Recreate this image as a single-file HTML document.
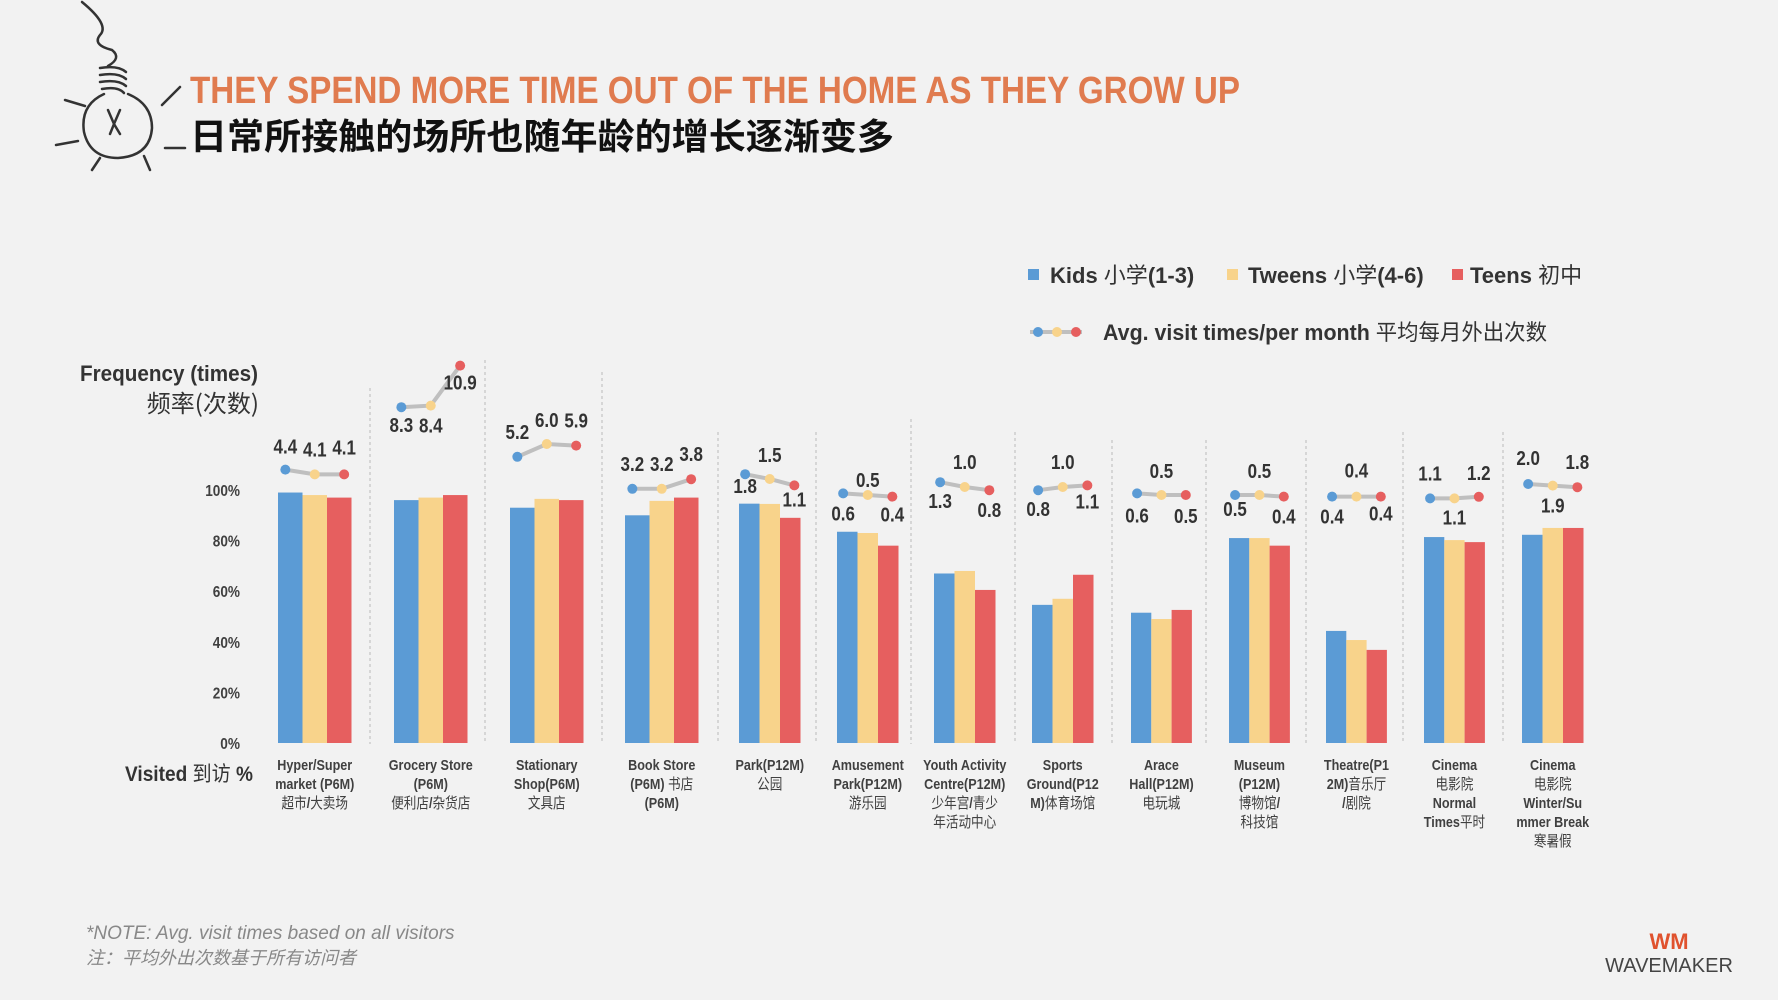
<!DOCTYPE html>
<html><head><meta charset="utf-8"><style>
html,body{margin:0;padding:0;background:#F2F2F2;}
svg{display:block;}
text{font-family:"Liberation Sans Narrow","Liberation Sans","Noto Sans CJK SC",sans-serif;}
</style></head><body>
<svg id="chart" width="1778" height="1000" viewBox="0 0 1778 1000" xmlns="http://www.w3.org/2000/svg">
<rect width="1778" height="1000" fill="#F2F2F2"/>
<g fill="none" stroke="#333" stroke-width="2.5" stroke-linecap="round">
<path d="M82 2 Q110 25 100 35 Q92 45 112 50 Q122 58 108 66"/>
<path d="M100 68 q18 -3 26 4 M100 75 q18 -3 26 4 M100 82 q18 -3 26 4 M102 89 q16 -3 22 4"/>
<path d="M104 94 Q80 105 84 132 Q90 158 118 158 Q150 156 152 128 Q152 104 128 94"/>
<path d="M108 110 l6 14 l6 -14 M114 124 l-4 10 M114 124 l6 10"/>
<path d="M65 100 l20 6 M56 145 l22 -4 M92 170 l8 -12 M150 170 l-6 -14 M165 148 l20 0 M162 105 l18 -18"/>
</g>
<text x="190" y="103" font-size="38" font-weight="bold" fill="#E07B4F" textLength="1050" lengthAdjust="spacingAndGlyphs">THEY SPEND MORE TIME OUT OF THE HOME AS THEY GROW UP</text>
<text x="190" y="149" font-size="36" font-weight="bold" fill="#111" textLength="704" lengthAdjust="spacingAndGlyphs" style="font-family:'Noto Sans CJK SC',sans-serif">日常所接触的场所也随年龄的增长逐渐变多</text>

<g font-size="22" font-weight="bold" fill="#333">
<rect x="1028" y="269" width="11" height="11" fill="#5B9BD5"/>
<text class="cond" x="1050" y="283">Kids <tspan style="font-family:'Noto Sans CJK SC'" font-weight="normal">小学</tspan>(1-3)</text>
<rect x="1227" y="269" width="11" height="11" fill="#F8D38B"/>
<text class="cond" x="1248" y="283">Tweens <tspan style="font-family:'Noto Sans CJK SC'" font-weight="normal">小学</tspan>(4-6)</text>
<rect x="1452" y="269" width="11" height="11" fill="#E65F5F"/>
<text class="cond" x="1470" y="283">Teens <tspan style="font-family:'Noto Sans CJK SC'" font-weight="normal">初中</tspan></text>
<g>
<line x1="1030" y1="332" x2="1082" y2="332" stroke="#BFBFBF" stroke-width="4"/>
<circle cx="1038" cy="332" r="5" fill="#5B9BD5"/><circle cx="1057" cy="332" r="5" fill="#F8D38B"/><circle cx="1076" cy="332" r="5" fill="#E65F5F"/>
</g>
<text x="1103" y="340" textLength="444" lengthAdjust="spacingAndGlyphs">Avg. visit times/per month <tspan style="font-family:'Noto Sans CJK SC'" font-weight="normal">平均每月外出次数</tspan></text>
</g>

<text x="80" y="381" font-size="22" font-weight="bold" fill="#333" textLength="178" lengthAdjust="spacingAndGlyphs">Frequency (times)</text>
<text x="259" y="412" font-size="24" fill="#333" text-anchor="end" style="font-family:'Noto Sans CJK SC',sans-serif">频率(次数)</text>
<text x="125" y="781" font-size="21" font-weight="bold" fill="#333" textLength="128" lengthAdjust="spacingAndGlyphs">Visited <tspan style="font-family:'Noto Sans CJK SC'" font-weight="normal">到访</tspan> %</text>
<g id="plot"></g>

<text x="86" y="939" font-size="19" font-style="italic" fill="#888" style="font-family:'Liberation Sans',sans-serif">*NOTE: Avg. visit times based on all visitors</text>
<text x="86" y="964" font-size="18" font-style="italic" fill="#888" style="font-family:'Noto Sans CJK SC',sans-serif">注：平均外出次数基于所有访问者</text>
<text x="1669" y="949" font-size="22" font-weight="bold" fill="#E0522E" text-anchor="middle" style="font-family:'Liberation Sans',sans-serif">WM</text>
<text x="1669" y="972" font-size="20" fill="#444" text-anchor="middle" style="font-family:'Liberation Sans',sans-serif">WAVEMAKER</text>
</svg>
<script>
const categories = [
 ["Hyper/Super","market (P6M)","超市/大卖场"],
 ["Grocery Store","(P6M)","便利店/杂货店"],
 ["Stationary","Shop(P6M)","文具店"],
 ["Book  Store","(P6M) 书店","(P6M)"],
 ["Park(P12M)","公园"],
 ["Amusement","Park(P12M)","游乐园"],
 ["Youth Activity","Centre(P12M)","少年宫/青少","年活动中心"],
 ["Sports","Ground(P12","M)体育场馆"],
 ["Arace","Hall(P12M)","电玩城"],
 ["Museum","(P12M)","博物馆/","科技馆"],
 ["Theatre(P1","2M)音乐厅","/剧院"],
 ["Cinema","电影院","Normal","Times平时"],
 ["Cinema","电影院","Winter/Su","mmer Break","寒暑假"]
];
const kidsVisited   = [99, 96, 93, 90, 94.6, 83.5, 67, 54.6, 51.5, 81, 44.3, 81.4, 82.3];
const tweensVisited = [98, 97, 96.5, 95.7, 94.5, 83, 68, 57, 49, 81, 40.7, 80.2, 85];
const teensVisited  = [97, 98, 96, 97, 89, 78, 60.5, 66.5, 52.6, 78, 36.8, 79.4, 85];
const kidsFreq   = [4.4, 8.3, 5.2, 3.2, 1.8, 0.6, 1.3, 0.8, 0.6, 0.5, 0.4, 1.1, 2.0];
const tweensFreq = [4.1, 8.4, 6.0, 3.2, 1.5, 0.5, 1.0, 1.0, 0.5, 0.5, 0.4, 1.1, 1.9];
const teensFreq  = [4.1, 10.9, 5.9, 3.8, 1.1, 0.4, 0.8, 1.1, 0.5, 0.4, 0.4, 1.2, 1.8];
const tickLabels = ["0%","20%","40%","60%","80%","100%"];
const tickValues = [0,20,40,60,80,100];

// layout (not data)
const groupLeft = [278,394,510,625,739,837,934,1032,1131,1229,1326,1424,1522];
const barW = [24.5,24.5,24.5,24.5,20.5,20.5,20.5,20.5,20.3,20.3,20.3,20.3,20.5];
const dotBase = [540,540,540,540,503,503,503,503,503,503,503,516,516];
const lblDy = [[-23,-25,-27],[18,20,17],[-25,-24,-25],[-25,-25,-25],[12,-24,14],[20,-15,18],[19,-25,20],[19,-25,16],[22,-24,21],[14,-24,20],[20,-26,17],[-25,19,-24],[-26,20,-25]];
const sepX = [370,485,602,718,816,911,1015,1112,1206,1306,1403,1503];
const sepTop = [388,360,372,432,432,419,432,440,440,440,432,432];

const colors = ["#5B9BD5","#F8D38B","#E65F5F"];
const seriesNames = ["kids","tweens","teens"];
const baseY = 743, pxPerPct = 2.53, pxPerFreq = 16;
const yPct = v => baseY - v * pxPerPct;
const yFreq = (g, v) => dotBase[g] - v * pxPerFreq;
const NS = "http://www.w3.org/2000/svg";
const plot = document.getElementById("plot");
function mk(tag, attrs, parent){ const e=document.createElementNS(NS,tag); for(const k in attrs) e.setAttribute(k,attrs[k]); (parent||plot).appendChild(e); return e; }
function condense(t, f){ const w=t.getComputedTextLength(); if(w>0){ t.setAttribute("textLength", (w*f).toFixed(1)); t.setAttribute("lengthAdjust","spacingAndGlyphs"); } }

tickValues.forEach((v,i)=>{
  const t = mk("text",{x:240,y:yPct(v)+6,"font-size":16,"font-weight":"bold",fill:"#404040","text-anchor":"end"});
  
  
  t.textContent = tickLabels[i];
  condense(t, 0.85);
});
sepX.forEach((x,i)=>{
  const l = mk("line",{x1:x,x2:x,y1:sepTop[i],y2:744,stroke:"#BBBBBB","stroke-width":1,"stroke-dasharray":"3,3"});
  
  
});
const visited = [kidsVisited, tweensVisited, teensVisited];
const freq = [kidsFreq, tweensFreq, teensFreq];
categories.forEach((cat,g)=>{
  const w = barW[g];
  for(let s=0;s<3;s++){
    const v = visited[s][g];
    const r = mk("rect",{x:groupLeft[g]+s*w,y:yPct(v),width:w,height:v*pxPerPct,fill:colors[s]});
    
    
  }
  const cx = groupLeft[g] + 1.5*w, sp = w*1.2;
  const pts = [0,1,2].map(s=>[cx+(s-1)*sp, yFreq(g,freq[s][g])]);
  const pl = mk("polyline",{points:pts.map(p=>p.join(",")).join(" "),fill:"none",stroke:"#BFBFBF","stroke-width":4});
  
  
  pts.forEach((p,s)=>{
    const c = mk("circle",{cx:p[0],cy:p[1],r:5,fill:colors[s]});
    
    
    const t = mk("text",{x:p[0],y:p[1]+lblDy[g][s]+7,"font-size":20,"font-weight":"bold",fill:"#333","text-anchor":"middle"});
    
    
    t.textContent = freq[s][g].toFixed(1);
    condense(t, 0.85);
  });
  cat.forEach((line,i)=>{
    const t = mk("text",{x:cx,y:770+i*19,"font-size":15,"font-weight":"bold",fill:"#404040","text-anchor":"middle"});
    
    
    const parts = line.match(/[\u3000-\u9fff\uff00-\uffef]+|[^\u3000-\u9fff\uff00-\uffef]+/g);
    parts.forEach(pt=>{
      const sp2 = mk("tspan",{},t);
      if(/[\u3000-\u9fff]/.test(pt)){ sp2.setAttribute("font-weight","normal"); sp2.setAttribute("style","font-family:'Noto Sans CJK SC',sans-serif"); }
      sp2.textContent = pt;
    });
    condense(t, 0.84);
  });
});
</script>
</body></html>
